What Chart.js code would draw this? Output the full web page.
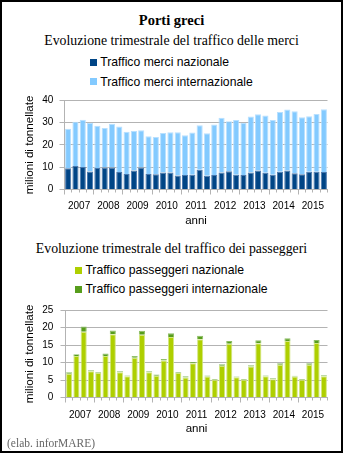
<!DOCTYPE html>
<html lang="it">
<head>
<meta charset="utf-8">
<title>Porti greci</title>
<script src="https://cdn.jsdelivr.net/npm/chart.js@4.4.1/dist/chart.umd.min.js"></script>
<style>
  html, body { margin: 0; padding: 0; background: #fff; }
  #pagina { position: relative; width: 343px; height: 453px; overflow: hidden; background: #fff; }
  .riga { position: absolute; left: 0; width: 343px; text-align: center; white-space: nowrap; color: #000; }
  .titolo { font: bold 14.5px/18px 'Liberation Serif', serif; top: 11px; }
  .sottotitolo { font: 13.8px/16px 'Liberation Serif', serif; }
  .legenda { position: absolute; left: 0; width: 343px; text-align: center; }
  .legenda .blocco { display: inline-block; text-align: left; }
  .voce { display: flex; align-items: center; height: 19.3px; font: 12.2px 'Liberation Sans', sans-serif; white-space: nowrap; color: #000; }
  .voce i { width: 7px; height: 7px; margin-right: 3px; flex: none; }
  canvas { position: absolute; left: 0; }
  #fonte { position: absolute; left: 7px; top: 436px; font: 11.5px/14px 'Liberation Serif', serif; color: #666; white-space: nowrap; }
  #cornice { position: absolute; left: 0; top: 0; width: 343px; height: 453px; border: 2px solid #000; box-sizing: border-box; pointer-events: none; }
</style>
</head>
<body>
<div id="pagina">
  <div class="riga titolo">Porti greci</div>
  <div class="riga sottotitolo" style="top:33px">Evoluzione trimestrale del traffico delle merci</div>
  <div class="legenda" id="legMerci" style="top:52.8px"><div class="blocco"></div></div>
  <canvas id="merci" width="343" height="140" style="top:88px"></canvas>

  <div class="riga sottotitolo" style="top:240.7px">Evoluzione trimestrale del traffico dei passeggeri</div>
  <div class="legenda" id="legPass" style="top:260.4px"><div class="blocco"></div></div>
  <canvas id="passeggeri" width="343" height="141" style="top:297px"></canvas>

  <div id="fonte">(elab. inforMARE)</div>
  <div id="cornice"></div>
</div>

<script>
// ── DATI ────────────────────────────────────────────────
const anni = [2007, 2008, 2009, 2010, 2011, 2012, 2013, 2014, 2015];
const trimestri = ['I', 'II', 'III', 'IV'];
const categorie = anni.flatMap(a => trimestri.map(t => t + ' trim. ' + a));

// merci, milioni di tonnellate
const merciNazionale = [
  9.5, 10.5, 10.1, 8.1,   9.6, 9.9, 9.9, 7.8,   6.9, 8.5, 9.8, 6.9,
  6.8, 7.6, 7.6, 6.3,     6.5, 6.6, 8.8, 6.2,   6.5, 7.6, 8.2, 6.6,
  6.5, 7.6, 8.5, 7.5,     6.6, 7.9, 8.5, 7.3,   6.8, 7.9, 7.9, 7.8
];
const merciInternazionale = [
  17.7, 19.9, 21.1, 21.8,  18.9, 17.6, 19.6, 20.4,  19.0, 17.7, 16.7, 17.0,
  16.7, 17.7, 18.0, 19.3,  17.8, 18.9, 20.0, 19.0,  22.6, 24.5, 22.4, 24.5,
  23.4, 25.1, 25.2, 25.6,  24.5, 26.8, 27.3, 27.7,  25.6, 24.9, 25.9, 28.2
];

// passeggeri
const passNazionale = [
  6.8, 11.9, 18.8, 7.5,   7.0, 11.9, 18.1, 7.2,   6.1, 11.4, 18.0, 7.2,
  6.25, 10.6, 17.3, 7.0,  5.7, 9.8, 16.7, 6.0,    5.1, 9.1, 15.4, 5.8,
  5.1, 8.9, 15.5, 6.1,    5.25, 9.4, 16.2, 6.0,   5.1, 9.4, 15.6, 6.1
];
const passInternazionale = [
  0.4, 0.5, 1.5, 0.3,     0.2, 0.7, 1.1, 0.3,     0.2, 0.5, 1.1, 0.3,
  0.35, 0.45, 1.1, 0.25,  0.4, 0.4, 1.0, 0.3,     0.2, 0.4, 0.8, 0.2,
  0.2, 0.3, 0.9, 0.2,     0.25, 0.4, 0.8, 0.25,   0.2, 0.4, 0.9, 0.3
];

const tickMerci = [0, 10, 20, 30, 40];
const tickPass = [0, 5, 10, 15, 20, 25];

// ── STILE ───────────────────────────────────────────────
const GRIGIO = '#b3b3b3';
Chart.defaults.font.family = "'Liberation Sans', Arial, sans-serif";
Chart.defaults.color = '#000';

const serieMerci = [
  { nome: 'Traffico merci nazionale', dati: merciNazionale, colore: '#004586', bordo: '#4a78ad' },
  { nome: 'Traffico merci internazionale', dati: merciInternazionale, colore: '#83caff', bordo: '#b8e0ff' }
];
const seriePass = [
  { nome: 'Traffico passeggeri nazionale', dati: passNazionale, colore: '#aecf00', bordo: '#d3e681' },
  { nome: 'Traffico passeggeri internazionale', dati: passInternazionale, colore: '#579d1c', bordo: '#8cbd63' }
];

function legenda(id, serie) {
  const box = document.querySelector('#' + id + ' .blocco');
  serie.forEach(s => {
    const v = document.createElement('div');
    v.className = 'voce';
    v.innerHTML = '<i style="background:' + s.colore + '"></i>' + s.nome;
    box.appendChild(v);
  });
}

function grafico(id, serie, tick, g) {
  return new Chart(document.getElementById(id), {
    type: 'bar',
    data: {
      labels: categorie,
      datasets: serie.map(s => ({
        label: s.nome,
        data: s.dati,
        backgroundColor: s.colore,
        borderColor: s.bordo,
        borderWidth: 1,
        borderSkipped: 'start',
        barPercentage: 0.84,
        categoryPercentage: 1
      }))
    },
    options: {
      responsive: false,
      animation: false,
      layout: { padding: { top: g.top, right: g.right, left: 0, bottom: 0 } },
      plugins: { legend: { display: false }, tooltip: { enabled: false } },
      scales: {
        x: {
          stacked: true,
          offset: true,
          grid: {
            offset: true,
            // only the right-hand frame line inside the plot
            color: c => c.index === categorie.length ? GRIGIO : 'transparent',
            tickColor: GRIGIO,
            tickLength: 5,
            // long marks between years, short ones between quarters
            tickBorderDash: c => c.index % 4 === 0 ? [] : [2.5, 10]
          },
          border: { color: GRIGIO },
          ticks: {
            autoSkip: false,
            maxRotation: 0,
            minRotation: 0,
            labelOffset: 3.65,
            padding: g.xPad,
            font: { size: 10 },
            callback: (v, i) => i % 4 === 1 ? String(anni[Math.floor(i / 4)]) : ''
          },
          title: { display: true, text: 'anni', font: { size: 11.5 }, padding: { top: 0, bottom: g.annoPad } },
          afterFit: s => { s.height = g.xH; }
        },
        y: {
          stacked: true,
          min: tick[0],
          max: tick[tick.length - 1],
          grid: { color: GRIGIO, tickColor: GRIGIO, tickLength: 5 },
          border: { color: GRIGIO },
          ticks: { padding: g.yPad, font: { size: 10 } },
          afterBuildTicks: s => { s.ticks = tick.map(v => ({ value: v })); },
          title: { display: true, text: 'milioni di tonnellate', font: { size: 11.6 }, padding: { top: 22.5, bottom: 0 } },
          afterFit: s => { s.width = g.yW; }
        }
      }
    }
  });
}

legenda('legMerci', serieMerci);
legenda('legPass', seriePass);

grafico('merci', serieMerci, tickMerci,
  { top: 8.5, right: 15.5, xH: 38.5, yW: 64.5, xPad: 5.3, yPad: 6.2, annoPad: 0 });
grafico('passeggeri', seriePass, tickPass,
  { top: 8.5, right: 15.5, xH: 40.5, yW: 65.5, xPad: 7, yPad: 7.2, annoPad: 2.4 });
</script>
</body>
</html>
